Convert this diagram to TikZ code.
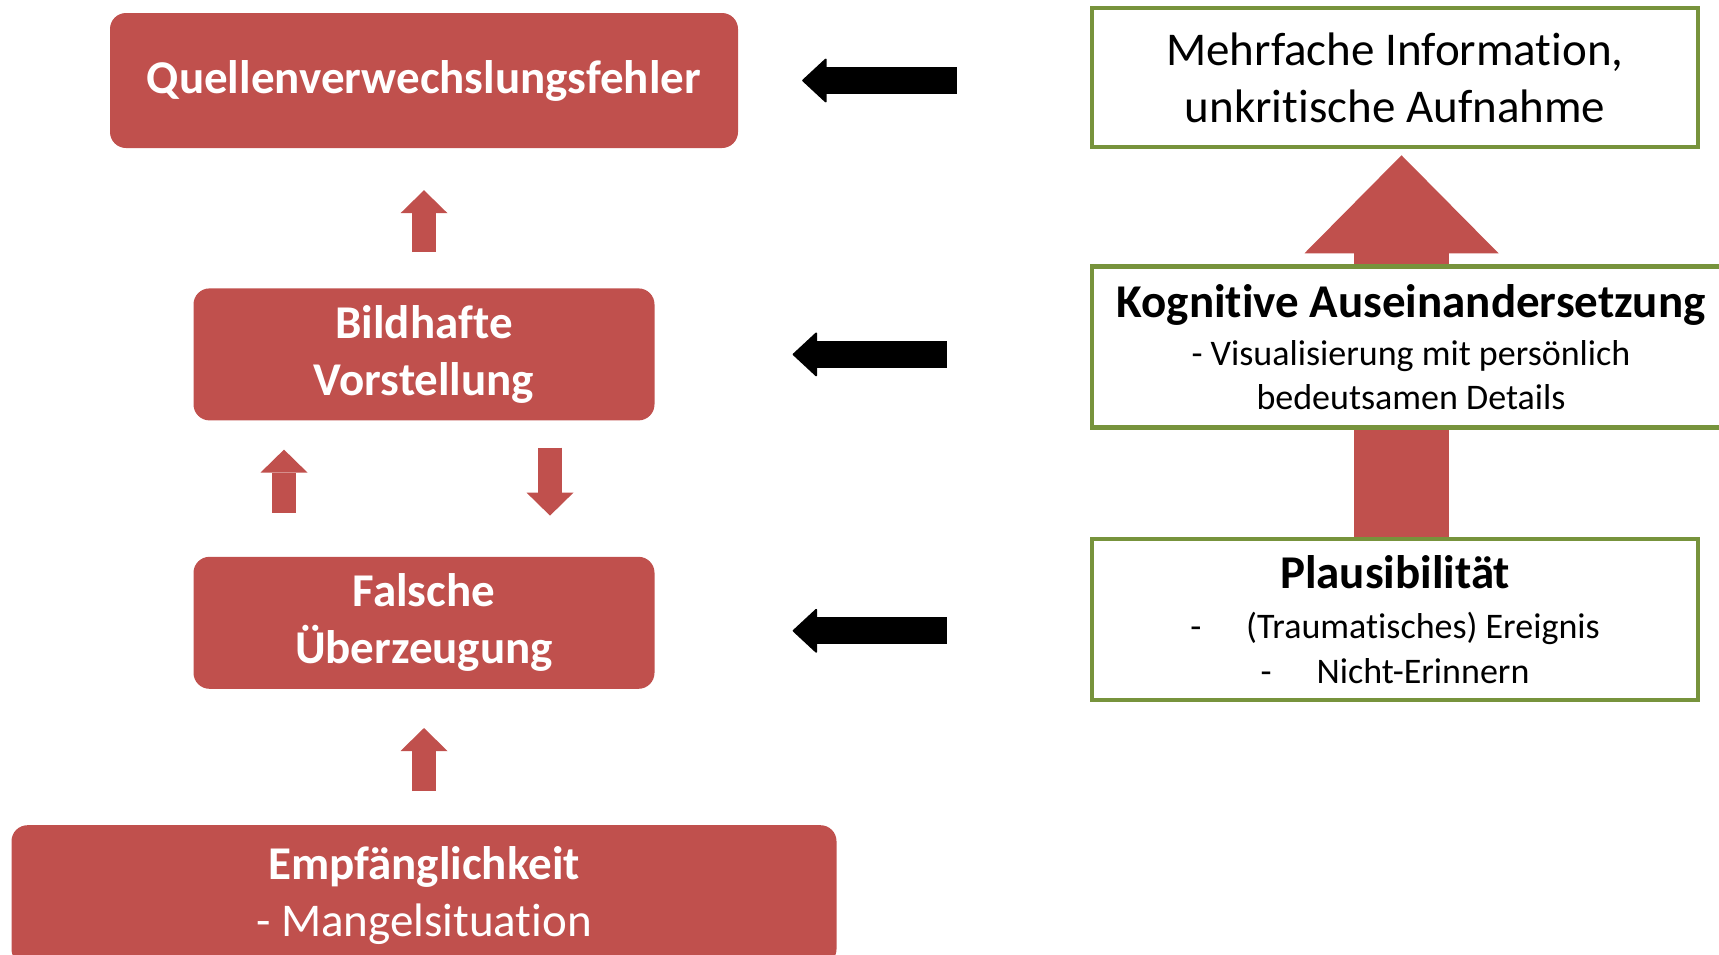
\documentclass[tikz,border=0pt]{standalone}
\usepackage{fontspec}
\setmainfont{Carlito}[Ligatures=NoCommon]
\usetikzlibrary{arrows.meta,positioning,backgrounds}
\definecolor{boxred}{RGB}{192,80,77}
\definecolor{olivegreen}{RGB}{119,147,60}
\tikzset{
  cause box/.style={
    rectangle, rounded corners=16pt, fill=boxred, text=white, align=center,
    inner sep=0pt, font=\bfseries\fontsize{47}{57}\selectfont
  },
  factor box/.style={
    rectangle, draw=olivegreen, line width=4.5pt, fill=white, text=black,
    align=center, inner sep=0pt, font=\fontsize{47}{57}\selectfont
  },
  up arrow/.style={boxred, line width=24pt, -{Triangle[width=47pt,length=23pt,line width=0pt]}},
  push arrow/.style={black, line width=27pt, -{Triangle[width=46pt,length=25pt,line width=2pt,round]}},
  big arrow/.style={boxred, line width=95pt, -{Triangle[width=194pt,length=98pt,line width=0pt]}}
}

\begin{document}
\begin{tikzpicture}[x=1pt,y=1pt]
    \useasboundingbox (0,0) rectangle (1719,-954);
    % left column
    \node[cause box, minimum width=628pt, minimum height=135pt] (quellen) at (424,-80.5) {Quellenverwechslungsfehler};
    \node[cause box, minimum width=461pt, minimum height=132pt, below=140pt of quellen] (bild) {Bildhafte\\Vorstellung};
    \node[cause box, minimum width=461pt, minimum height=132pt, below=136pt of bild] (falsche) {Falsche\\Überzeugung};
    \node[cause box, minimum width=825pt, minimum height=140pt, below=136pt of falsche] (empf) {Empfänglichkeit\\{\mdseries - Mangelsituation}};
    % right column
    \node[factor box, minimum width=606pt, minimum height=139pt] (mehr) at (1395,-77.5) {Mehrfache Information,\\unkritische Aufnahme};
    \node[factor box, minimum width=638pt, minimum height=161pt, below=115pt of mehr, xshift=16pt,
          font=\fontsize{36}{44}\selectfont] (kogn)
          {{\bfseries\fontsize{47}{57}\selectfont Kognitive Auseinandersetzung}\\[4pt]- Visualisierung mit persönlich\\bedeutsamen Details};
    \node[factor box, minimum width=606pt, minimum height=161pt, below=107pt of kogn.south -| mehr.south,
          font=\fontsize{36}{45}\selectfont] (plaus)
          {{\bfseries\fontsize{47}{57}\selectfont Plausibilität}\\[5pt]-\hspace{45pt}(Traumatisches) Ereignis\\-\hspace{45pt}Nicht-Erinnern};
    \coordinate (falsche in) at ([yshift=-8pt]falsche.east);
    % red arrows
    \draw[up arrow, shorten <=36pt, shorten >=42pt] (bild.north) -- (bild.north |- quellen.south);
    \draw[up arrow, shorten <=44pt, shorten >=29pt] ([xshift=-140pt]falsche.north) -- ([xshift=-140pt]bild.south);
    \draw[up arrow, shorten <=27pt, shorten >=41pt] ([xshift=126pt]bild.south) -- ([xshift=126pt]falsche.north);
    \draw[up arrow, shorten <=34pt, shorten >=39pt] (empf.north) -- (empf.north |- falsche.south);
    \begin{scope}[on background layer]
      \draw[big arrow, shorten >=6pt] ([xshift=6.5pt]plaus.north) -- ([xshift=6.5pt]plaus.north |- mehr.south);
    \end{scope}
    % black arrows
    \draw[push arrow, shorten <=133pt, shorten >=64pt] (mehr.west |- quellen.east) -- (quellen.east);
    \draw[push arrow, shorten <=143pt, shorten >=138pt] (kogn.west |- bild.east) -- (bild.east);
    \draw[push arrow, shorten <=143pt, shorten >=138pt] (plaus.west |- falsche in) -- (falsche in);
\end{tikzpicture}
\end{document}
